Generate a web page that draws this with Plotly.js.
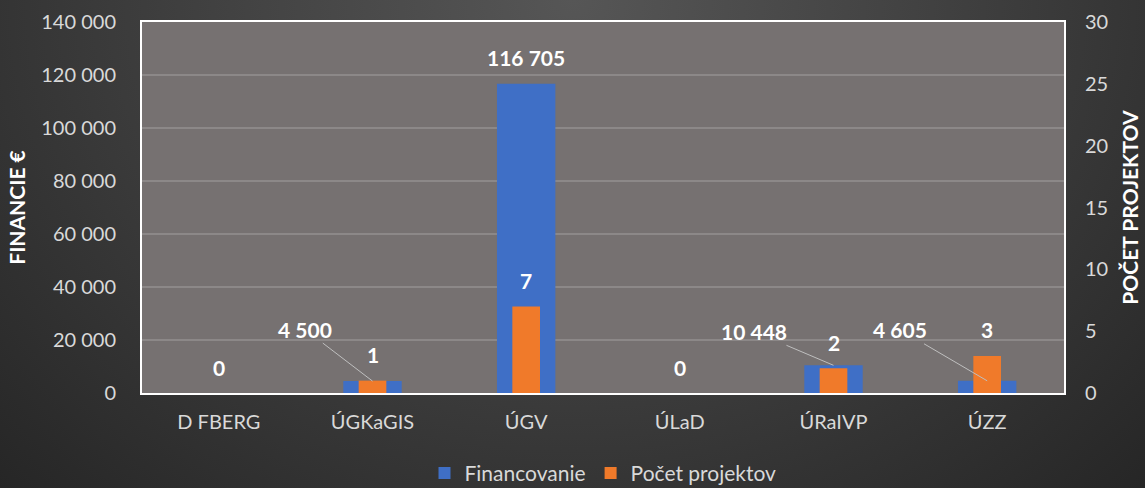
<!DOCTYPE html>
<html>
<head>
<meta charset="utf-8">
<script src="https://cdn.plot.ly/plotly-3.0.1.min.js"></script>
<style>
  html, body { margin: 0; padding: 0; }
  body {
    width: 1145px; height: 488px; overflow: hidden;
    background: radial-gradient(ellipse at 50% 0%, #565656 0%, #3c3c3c 55%, #262626 100%);
  }
  #chart { width: 1145px; height: 488px; }
</style>
</head>
<body>
<div id="chart"></div>
<script>
// data
var categories = ['D FBERG', 'ÚGKaGIS', 'ÚGV', 'ÚLaD', 'ÚRaIVP', 'ÚZZ'];
var financovanie = [0, 4500, 116705, 0, 10448, 4605];
var pocetProjektov = [0, 1, 7, 0, 2, 3];

// label leader offsets (pixels) for small blue bars, null = plain label above bar
var finLeaderAx = [null, -68, null, null, -80, -87];
var finLeaderAy = [null, -52, null, null, -34, -51];

var FONT = 'Lato, "Open Sans", sans-serif';
var labelFont = { family: FONT, size: 21, color: '#ffffff' };
var tickFont = { family: FONT, size: 20, color: '#d9d9d9' };

function fmt(v) {
    return String(v).replace(/\B(?=(\d{3})+(?!\d))/g, ' ');
}

var annotations = [];
for (let i = 0; i < categories.length; i++) {
    if (finLeaderAx[i] !== null) {
        annotations.push({
            x: categories[i], y: financovanie[i], xref: 'x', yref: 'y',
            text: '<b>' + fmt(financovanie[i]) + '</b>',
            showarrow: true, arrowhead: 0, arrowwidth: 1, arrowcolor: '#bfbfbf',
            ax: finLeaderAx[i], ay: finLeaderAy[i],
            font: labelFont
        });
    } else {
        annotations.push({
            x: categories[i], y: financovanie[i], xref: 'x', yref: 'y',
            text: '<b>' + fmt(financovanie[i]) + '</b>',
            showarrow: false, yanchor: 'middle', yshift: 26,
            font: labelFont
        });
    }
    if (pocetProjektov[i] > 0) {
        annotations.push({
            x: categories[i], y: pocetProjektov[i], xref: 'x', yref: 'y2',
            text: '<b>' + pocetProjektov[i] + '</b>',
            showarrow: false, yanchor: 'middle', yshift: 26,
            font: labelFont
        });
    }
}

var trace1 = {
    x: categories, y: financovanie,
    type: 'bar', name: 'Financovanie',
    width: 0.38,
    marker: { color: '#3f6fc6' },
    yaxis: 'y'
};
var trace2 = {
    x: categories, y: pocetProjektov,
    type: 'bar', name: 'Počet projektov',
    width: 0.18,
    marker: { color: '#f07a2a' },
    yaxis: 'y2'
};

var layout = {
    width: 1145, height: 488,
    paper_bgcolor: 'rgba(0,0,0,0)',
    plot_bgcolor: '#767171',
    barmode: 'overlay',
    separators: ', ',
    margin: { l: 142, r: 81, t: 22, b: 95 },
    showlegend: true,
    legend: {
        orientation: 'h', x: 0.5, xanchor: 'center',
        yref: 'container', y: 0.03, yanchor: 'middle',
        font: { family: FONT, size: 21, color: '#d9d9d9' },
        traceorder: 'normal', itemwidth: 30
    },
    xaxis: {
        tickfont: tickFont,
        showline: true, linecolor: '#ffffff', linewidth: 2, mirror: true,
        ticks: 'outside', ticklen: 10, tickcolor: 'rgba(0,0,0,0)', showgrid: false
    },
    yaxis: {
        range: [0, 140000], dtick: 20000, tickformat: ',d',
        tickfont: tickFont,
        gridcolor: '#8c8888', gridwidth: 2,
        zeroline: false,
        showline: true, linecolor: '#ffffff', linewidth: 2, mirror: true,
        ticks: 'outside', ticklen: 20, tickcolor: 'rgba(0,0,0,0)',
        title: { text: '<b>FINANCIE €</b>', font: { family: FONT, size: 21, color: '#ffffff' }, standoff: 10 }
    },
    yaxis2: {
        overlaying: 'y', side: 'right',
        range: [0, 30], dtick: 5,
        tickfont: tickFont,
        showgrid: false, zeroline: false,
        ticks: 'outside', ticklen: 16, tickcolor: 'rgba(0,0,0,0)',
        title: { text: '<b>POČET PROJEKTOV</b>', font: { family: FONT, size: 21, color: '#ffffff' }, standoff: 16 }
    },
    annotations: annotations
};

Plotly.newPlot('chart', [trace1, trace2], layout, { displayModeBar: false });
</script>
</body>
</html>
